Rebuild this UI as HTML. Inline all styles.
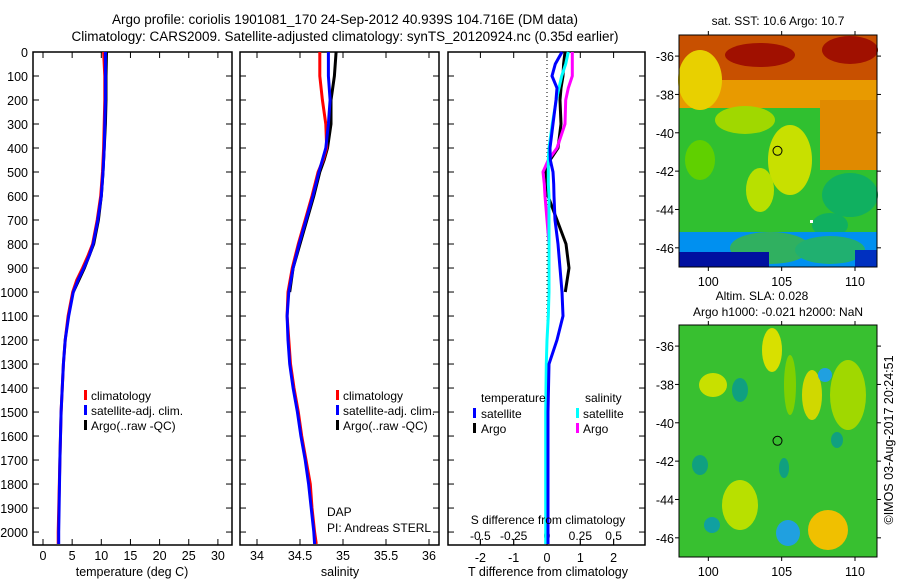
<!DOCTYPE html>
<html><head><meta charset="utf-8"><style>
html,body{margin:0;padding:0;background:#fff}
svg{display:block;font-family:"Liberation Sans",sans-serif}
text{font-size:12px;fill:#000}
</style></head><body>
<svg id="fig" xmlns="http://www.w3.org/2000/svg" width="900" height="580" viewBox="0 0 900 580">
<text x="345" y="24" text-anchor="middle" style="font-size:13.5px">Argo profile: coriolis 1901081_170 24-Sep-2012 40.939S 104.716E (DM data)</text>
<text x="345" y="41" text-anchor="middle" style="font-size:13.5px">Climatology: CARS2009. Satellite-adjusted climatology: synTS_20120924.nc (0.35d earlier)</text>
<g id="maps"></g>
<g id="plots"></g>
<text transform="translate(893,440) rotate(-90)" text-anchor="middle" style="font-size:12.5px">©IMOS 03-Aug-2017 20:24:51</text>
</svg>
<script>
// ---- data ----
const depthT = [0,100,200,300,400,500,600,700,800,850,900,950,1000,1100,1200,1300,1500,1700,2000,2050];
const tempClim = [10.4,10.6,10.6,10.5,10.4,10.2,9.9,9.3,8.5,7.7,6.8,5.8,5.1,4.3,3.8,3.5,3.1,2.9,2.6,2.6];
const tempSat = [10.7,10.7,10.7,10.6,10.5,10.3,10.0,9.4,8.6,7.9,7.0,6.0,5.2,4.4,3.8,3.5,3.1,2.9,2.7,2.7];
const depthArgo = [0,100,200,300,400,500,600,700,800,900,1000];
const tempArgo = [10.9,10.8,10.8,10.7,10.5,10.3,10.0,9.5,8.7,7.1,5.2];
const depthSA = [0,100,150,200,300,400,450,500,600,700,800,900,1000];
const salArgo = [34.92,34.90,34.88,34.86,34.86,34.82,34.78,34.73,34.66,34.58,34.50,34.42,34.38];
const depthS = [0,100,200,300,400,450,500,600,700,800,900,1000,1100,1200,1300,1400,1500,1600,1700,1800,1900,2000,2050];
const salClim = [34.73,34.73,34.76,34.80,34.81,34.77,34.71,34.64,34.56,34.48,34.41,34.36,34.35,34.37,34.39,34.43,34.48,34.52,34.57,34.62,34.64,34.67,34.69];
const salSat = [34.83,34.83,34.85,34.83,34.80,34.76,34.72,34.65,34.57,34.49,34.42,34.37,34.35,34.36,34.38,34.42,34.47,34.51,34.56,34.60,34.63,34.66,34.67];
const depthD = [0,50,100,150,200,300,400,450,500,550,600,700,800,900,1000,1100,1200,1300,1500,2000,2050];
const dTsat = [0.45,0.25,0.15,0.3,0.27,0.18,0.09,0.1,0.18,0.2,0.21,0.24,0.33,0.39,0.45,0.48,0.3,0.06,0.03,0.03,0.03];
const dSsat = [0.16,0.14,0.11,0.09,0.07,0.04,0.015,0.01,0.01,0.01,0.015,0.015,0.015,0.015,0.015,0.01,0.0,-0.005,-0.01,-0.01,-0.01];
const depthDA = [0,50,100,150,200,300,400,450,500,550,600,700,800,900,1000];
const dTargo = [0.54,0.5,0.48,0.42,0.39,0.42,0.33,0.09,-0.03,0.0,0.03,0.3,0.57,0.66,0.55];
const dSargo = [0.19,0.19,0.19,0.16,0.14,0.135,0.075,0.01,-0.03,-0.02,-0.015,0.0,0.015,0.015,0.015];
const depthTicks = [0,100,200,300,400,500,600,700,800,900,1000,1100,1200,1300,1400,1500,1600,1700,1800,1900,2000];
const tTicks = [0,5,10,15,20,25,30];
const sTicks = [34,34.5,35,35.5,36];
const dTticks = [-2,-1,0,1,2];
const dSticks = [-0.5,-0.25,0,0.25,0.5];
const lonTicks = [100,105,110];
const latTicks = [-36,-38,-40,-42,-44,-46];

const NS='http://www.w3.org/2000/svg';
function mk(tag,attrs,parent){const e=document.createElementNS(NS,tag);for(const k in attrs)e.setAttribute(k,attrs[k]);parent.appendChild(e);return e;}
const plots=document.getElementById('plots');
const Y0=52, Y1=545, D1=2054;
const yD=d=>Y0+(d/D1)*(Y1-Y0);
function frame(x0,x1,name){
  const r=mk('rect',{x:x0,y:Y0,width:x1-x0,height:Y1-Y0,fill:'none',stroke:'#000','stroke-width':1.5},plots);
  
  
  depthTicks.forEach(d=>{mk('line',{x1:x0,x2:x0+6,y1:yD(d),y2:yD(d),stroke:'#000'},plots);mk('line',{x1:x1-6,x2:x1,y1:yD(d),y2:yD(d),stroke:'#000'},plots);});
}
function line(xs,ds,fx,color,name,w){
  const p=xs.map((v,i)=>fx(v).toFixed(1)+','+yD(ds[i]).toFixed(1)).join(' ');
  const e=mk('polyline',{points:p,fill:'none',stroke:color,'stroke-width':w||3},plots);
  
  
}
function txt(x,y,s,anchor,name,size){
  const t=mk('text',{x:x,y:y,'text-anchor':anchor||'start'},plots);
  if(size)t.style.fontSize=size+'px';
  t.textContent=s;
  
  
  return t;
}
// Panel 1 temperature
const xT=v=>43+v*5.83;
frame(33,232,'temperature-panel');
tTicks.forEach(v=>{mk('line',{x1:xT(v),x2:xT(v),y1:Y1,y2:Y1-6,stroke:'#000'},plots);mk('line',{x1:xT(v),x2:xT(v),y1:Y0,y2:Y0+6,stroke:'#000'},plots);txt(xT(v),560,String(v),'middle','temp-tick-label',12.5);});
depthTicks.forEach(d=>txt(28,yD(d)+5,String(d),'end','depth-tick-label',12.5));
line(tempArgo,depthArgo,xT,'#000','temp-argo-line');
line(tempClim,depthT,xT,'#f00','temp-climatology-line');
line(tempSat,depthT,xT,'#00f','temp-satellite-line');
txt(132,576,'temperature (deg C)','middle','temp-x-axis-title',12.5);
// Panel 2 salinity
const xS=v=>257+(v-34)*86;
frame(240,439,'salinity-panel');
sTicks.forEach(v=>{mk('line',{x1:xS(v),x2:xS(v),y1:Y1,y2:Y1-6,stroke:'#000'},plots);mk('line',{x1:xS(v),x2:xS(v),y1:Y0,y2:Y0+6,stroke:'#000'},plots);txt(xS(v),560,String(v),'middle','sal-tick-label',12.5);});
line(salArgo,depthSA,xS,'#000','sal-argo-line');
line(salClim,depthS,xS,'#f00','sal-climatology-line');
line(salSat,depthS,xS,'#00f','sal-satellite-line');
txt(340,576,'salinity','middle','sal-x-axis-title',12.5);
txt(327,516,'DAP','start','dap-label');
txt(327,532,'PI: Andreas STERL','start','pi-label');
// legends
function legend(x,items){items.forEach((it,i)=>{const y=398+i*15;mk('rect',{x:x,y:y-8,width:3,height:10,fill:it[1]},plots);txt(x+7,y+2,it[0],'start','legend-entry');});}
legend(84,[['climatology','#f00'],['satellite-adj. clim.','#00f'],['Argo(..raw -QC)','#000']]);
legend(336,[['climatology','#f00'],['satellite-adj. clim.','#00f'],['Argo(..raw -QC)','#000']]);
// Panel 3 differences
const xDT=v=>547+v*33.3;
const xDS=v=>547+v*133.3;
frame(448,645,'difference-panel');
dTticks.forEach(v=>{mk('line',{x1:xDT(v),x2:xDT(v),y1:Y1,y2:Y1-6,stroke:'#000'},plots);mk('line',{x1:xDT(v),x2:xDT(v),y1:Y0,y2:Y0+6,stroke:'#000'},plots);txt(xDT(v),562,String(v),'middle','dT-tick-label',12.5);});
dSticks.forEach(v=>{mk('line',{x1:xDS(v),x2:xDS(v),y1:Y1,y2:Y1-6,stroke:'#000'},plots);txt(xDS(v),540,String(v),'middle','dS-tick-label');});
mk('line',{x1:547,x2:547,y1:Y0,y2:Y1,stroke:'#000','stroke-dasharray':'1,3'},plots);
line(dTargo,depthDA,xDT,'#000','dT-argo-line');
line(dSargo,depthDA,xDS,'#f0f','dS-argo-line');
line(dSsat,depthD,xDS,'#0ff','dS-satellite-line');
line(dTsat,depthD,xDT,'#00f','dT-satellite-line');
txt(548,524,'S difference from climatology','middle','dS-axis-title');
txt(548,576,'T difference from climatology','middle','dT-axis-title',12.5);
txt(481,402,'temperature','start','legend-temperature-header');
txt(585,402,'salinity','start','legend-salinity-header');
[['satellite','#00f','#0ff'],['Argo','#000','#f0f']].forEach((it,i)=>{const y=416+i*15;
 mk('rect',{x:473,y:y-8,width:3,height:10,fill:it[1]},plots);txt(481,y+2,it[0],'start','legend-entry');
 mk('rect',{x:576,y:y-8,width:3,height:10,fill:it[2]},plots);txt(583,y+2,it[0],'start','legend-entry');});

// ---- maps ----
const maps=document.getElementById('maps');
function mapAxes(y0,y1,latTop,latBot,name){
  const X0=679,X1=877;
  const fx=l=>X0+(l-98)*(X1-X0)/13.5;
  const fy=l=>y0+(latTop-l)*(y1-y0)/(latTop-latBot);
  const r=mk('rect',{x:X0,y:y0,width:X1-X0,height:y1-y0,fill:'none',stroke:'#000','stroke-width':1},maps);
  
  
  lonTicks.forEach(v=>{mk('line',{x1:fx(v),x2:fx(v),y1:y1,y2:y1+4,stroke:'#000'},maps);mk('line',{x1:fx(v),x2:fx(v),y1:y0,y2:y0-4,stroke:'#000'},maps);const t=mk('text',{x:fx(v),y:y1+19,'text-anchor':'middle'},maps);t.style.fontSize='12.5px';t.textContent=v;});
  latTicks.forEach(v=>{mk('line',{x1:X0-4,x2:X0,y1:fy(v),y2:fy(v),stroke:'#000'},maps);mk('line',{x1:X1,x2:X1+4,y1:fy(v),y2:fy(v),stroke:'#000'},maps);const t=mk('text',{x:X0-5,y:fy(v)+5,'text-anchor':'end'},maps);t.style.fontSize='12.5px';t.textContent=v;});
  return {fx,fy};
}
function blob(cx,cy,rx,ry,c,p){mk('ellipse',{cx:cx,cy:cy,rx:rx,ry:ry,fill:c},p);}
// SST map
const g1=mk('g',{},maps);
mk('rect',{x:679,y:35,width:198,height:232,fill:'#30c030'},g1);
mk('rect',{x:679,y:35,width:198,height:50,fill:'#c85000'},g1);
mk('rect',{x:679,y:80,width:198,height:28,fill:'#e89a00'},g1);
mk('rect',{x:820,y:100,width:57,height:70,fill:'#e08a00'},g1);
blob(700,80,22,30,'#e8d000',g1);blob(760,55,35,12,'#a01000',g1);blob(850,50,28,14,'#a01000',g1);
blob(745,120,30,14,'#a0d800',g1);blob(790,160,22,35,'#c8e000',g1);blob(700,160,15,20,'#60d000',g1);
blob(760,190,14,22,'#b8e000',g1);blob(850,195,28,22,'#10b060',g1);blob(830,225,18,12,'#10b060',g1);
mk('rect',{x:679,y:232,width:198,height:35,fill:'#0090f0'},g1);
blob(770,248,40,16,'#30b060',g1);blob(830,250,35,14,'#20b070',g1);
mk('rect',{x:679,y:252,width:90,height:15,fill:'#0010a0'},g1);mk('rect',{x:855,y:250,width:22,height:17,fill:'#0030c0'},g1);
mk('rect',{x:810,y:220,width:3,height:3,fill:'#fff'},g1);
const m1=mapAxes(35,267,-34.9,-47.0,'sst-map-frame');
mk('circle',{cx:m1.fx(104.716),cy:m1.fy(-40.939),r:4.5,fill:'none',stroke:'#000'},maps);
const t1=mk('text',{x:778,y:25,'text-anchor':'middle'},maps);t1.textContent='sat. SST: 10.6 Argo: 10.7';
// SLA map
const g2=mk('g',{},maps);
mk('rect',{x:679,y:325,width:198,height:232,fill:'#38c030'},g2);
blob(772,350,10,22,'#d8e000',g2);blob(713,385,14,12,'#c8e000',g2);blob(812,395,10,25,'#d0d800',g2);
blob(848,395,18,35,'#a0d800',g2);blob(790,385,6,30,'#80d000',g2);blob(740,505,18,25,'#b8e000',g2);
blob(828,530,20,20,'#f0c000',g2);blob(788,533,12,13,'#20a0e0',g2);blob(825,375,7,7,'#20a0e0',g2);
blob(740,390,8,12,'#10a080',g2);blob(700,465,8,10,'#10a080',g2);blob(712,525,8,8,'#10a0a0',g2);blob(837,440,6,8,'#10a080',g2);blob(784,468,5,10,'#10a080',g2);
const m2=mapAxes(325,557,-34.9,-47.0,'sla-map-frame');
mk('circle',{cx:m2.fx(104.716),cy:m2.fy(-40.939),r:4.5,fill:'none',stroke:'#000'},maps);
const t2=mk('text',{x:762,y:300,'text-anchor':'middle'},maps);t2.textContent='Altim. SLA: 0.028';
const t3=mk('text',{x:778,y:316,'text-anchor':'middle'},maps);t3.textContent='Argo h1000: -0.021 h2000: NaN';
</script>
</body></html>
